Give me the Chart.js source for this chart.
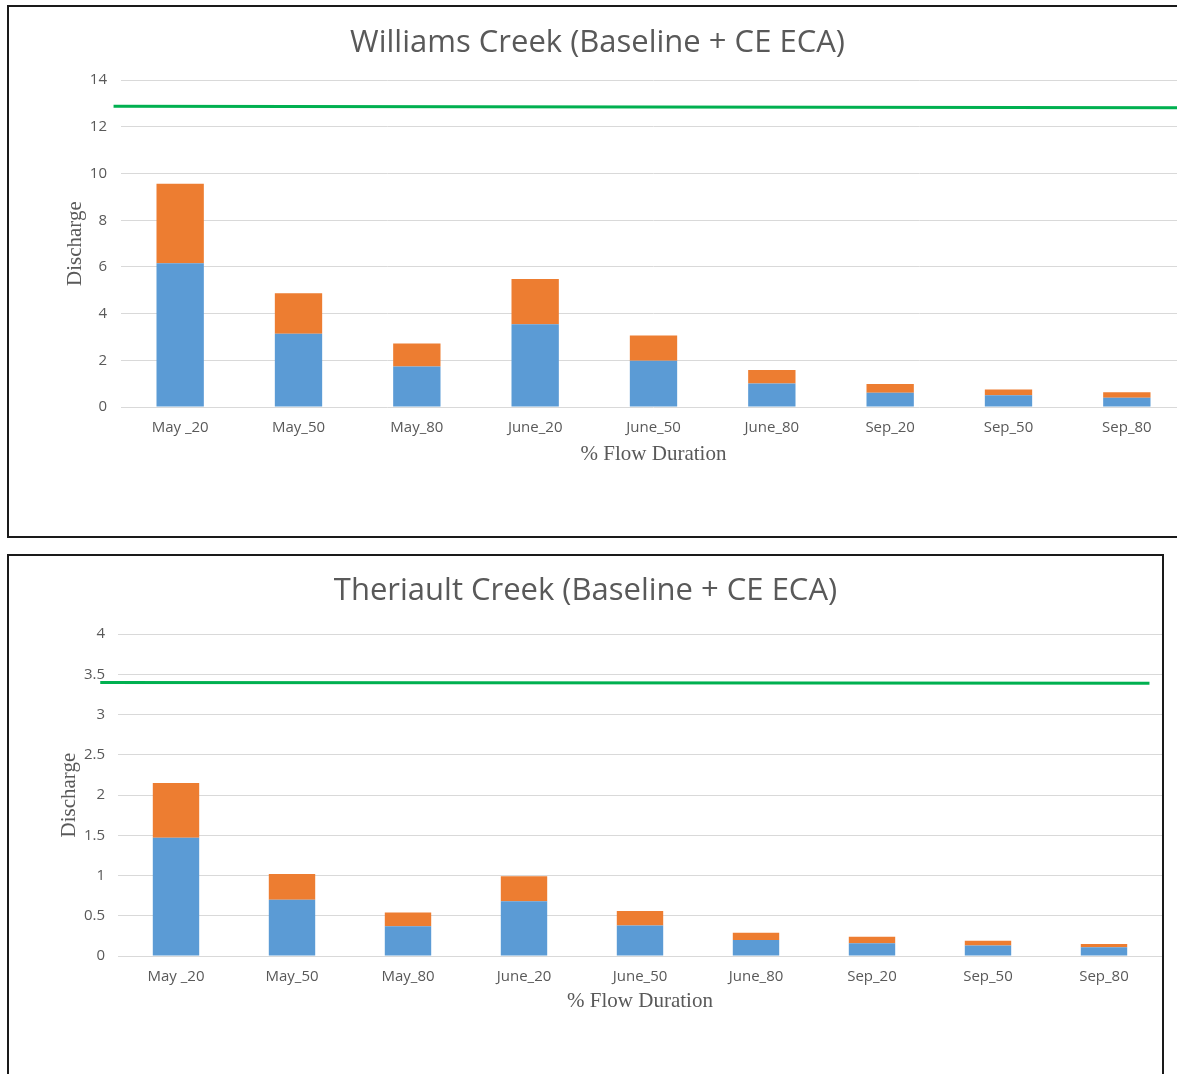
<!DOCTYPE html>
<html>
<head>
<meta charset="utf-8">
<script src="https://cdn.jsdelivr.net/npm/chart.js@4.4.1/dist/chart.umd.min.js"></script>
<style>
    html, body { margin: 0; padding: 0; background: #fff; overflow: hidden; width: 1177px; height: 1074px; }
    .box { position: absolute; box-sizing: border-box; border: 2px solid #1a1a1a; background: #fff; }
    #box1 { left: 7px; top: 5px; width: 1181px; height: 533px; }
    #box2 { left: 7px; top: 554px; width: 1157px; height: 532px; }
    canvas { display: block; }
</style>
</head>
<body>
<div class="box" id="box1"><canvas id="williams" width="1177" height="529"></canvas></div>
<div class="box" id="box2"><canvas id="theriault" width="1153" height="528"></canvas></div>
<script>
const categories = ['May _20', 'May_50', 'May_80', 'June_20', 'June_50', 'June_80', 'Sep_20', 'Sep_50', 'Sep_80'];

// Williams Creek
const williamsBaseline = [6.16, 3.14, 1.74, 3.55, 1.98, 1.01, 0.61, 0.50, 0.40];
const williamsECA = [3.40, 1.73, 0.98, 1.93, 1.08, 0.57, 0.37, 0.25, 0.23];
const williamsLineX = [-0.007, 1];
const williamsLineY = [12.88, 12.82];
const williamsTicks = { min: 0, max: 14, step: 2 };

// Theriault Creek
const theriaultBaseline = [1.47, 0.70, 0.37, 0.68, 0.38, 0.20, 0.16, 0.13, 0.11];
const theriaultECA = [0.68, 0.32, 0.17, 0.31, 0.18, 0.09, 0.08, 0.06, 0.04];
const theriaultLineX = [-0.017, 0.988];
const theriaultLineY = [3.40, 3.39];
const theriaultTicks = { min: 0, max: 4, step: 0.5 };

const grey = '#595959';

function makeChart(id, title, baseline, eca, lineX, lineY, ticks, lay) {
    const ctx = document.getElementById(id).getContext('2d');
    return new Chart(ctx, {
        type: 'bar',
        data: {
            labels: categories,
            datasets: [{
                label: 'Baseline',
                data: baseline,
                backgroundColor: '#5B9BD5',
                borderWidth: 0,
                grouped: false
            }, {
                label: 'CE ECA',
                data: eca,
                backgroundColor: '#ED7D31',
                borderWidth: 0,
                grouped: false
            }, {
                type: 'line',
                label: 'Threshold',
                data: lineX.map((x, i) => ({ x: x, y: lineY[i] })),
                xAxisID: 'xLine',
                yAxisID: 'yLine',
                borderColor: '#00B050',
                borderWidth: 3,
                pointRadius: 0,
                fill: false,
                clip: false
            }]
        },
        options: {
            responsive: false,
            animation: false,
            categoryPercentage: 0.4,
            barPercentage: 1,
            layout: { padding: { left: 0, right: 0, top: 0, bottom: lay.bottom } },
            plugins: {
                legend: { display: false },
                tooltip: { enabled: false },
                title: {
                    display: true,
                    text: title,
                    color: grey,
                    font: { family: 'Open Sans', size: 31, weight: 'normal' },
                    padding: { top: lay.titleTop, bottom: lay.titleBottom }
                }
            },
            scales: {
                x: {
                    type: 'category',
                    stacked: true,
                    grid: { display: false, drawTicks: false },
                    border: { display: false },
                    ticks: { color: grey, font: { family: 'Open Sans', size: 15 }, padding: 12 },
                    title: {
                        display: true,
                        text: '% Flow Duration',
                        color: grey,
                        font: { family: 'Liberation Serif', size: 21 },
                        padding: { top: 0, bottom: 0 }
                    },
                    afterFit: function(scale) { scale.height = lay.xHeight; }
                },
                xLine: {
                    type: 'linear',
                    display: false,
                    offset: false,
                    min: 0,
                    max: 1
                },
                y: {
                    stacked: true,
                    min: ticks.min,
                    max: ticks.max,
                    grid: { color: '#d9d9d9', lineWidth: 1, drawTicks: false },
                    border: { display: false },
                    ticks: {
                        stepSize: ticks.step,
                        color: grey,
                        font: { family: 'Open Sans', size: 15 },
                        padding: lay.tickPad,
                        callback: (v) => String(v)
                    },
                    title: {
                        display: true,
                        text: 'Discharge',
                        color: grey,
                        font: { family: 'Liberation Serif', size: 21 },
                        padding: { top: lay.yTitleTop, bottom: 0 }
                    },
                    afterFit: function(scale) { scale.width = lay.yWidth; }
                },
                yLine: {
                    type: 'linear',
                    display: false,
                    offset: false,
                    min: ticks.min,
                    max: ticks.max
                }
            }
        }
    });
}

makeChart('williams', 'Williams Creek (Baseline + CE ECA)', williamsBaseline, williamsECA,
    williamsLineX, williamsLineY, williamsTicks,
    { bottom: 69, xHeight: 60, titleTop: 18, titleBottom: 18, tickPad: 14, yTitleTop: 54, yWidth: 112 });

makeChart('theriault', 'Theriault Creek (Baseline + CE ECA)', theriaultBaseline, theriaultECA,
    theriaultLineX, theriaultLineY, theriaultTicks,
    { bottom: 70, xHeight: 58, titleTop: 17, titleBottom: 24, tickPad: 13, yTitleTop: 48, yWidth: 109 });
</script>
</body>
</html>
